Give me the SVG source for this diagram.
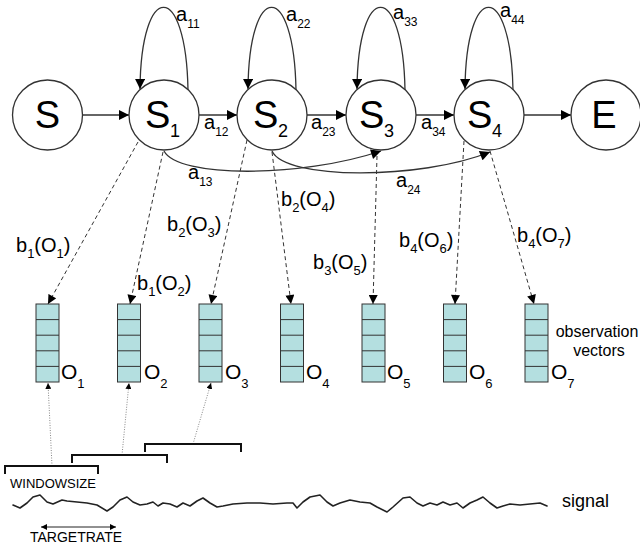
<svg xmlns="http://www.w3.org/2000/svg" width="640" height="550" viewBox="0 0 640 550">
<style>
.st{fill:#fff;stroke:#333;stroke-width:1.3}
.big{font-family:"Liberation Sans",Arial,sans-serif;font-size:38px;fill:#000}
.bsub{font-size:18px}
.lab{font-family:"Liberation Sans",Arial,sans-serif;font-size:20px;fill:#000}
.sub{font-size:12px}
.bl{font-family:"Liberation Sans",Arial,sans-serif;font-size:20px;fill:#000}
.bs{font-size:13px}
.ol{font-family:"Liberation Sans",Arial,sans-serif;font-size:21px;fill:#000}
.txt{font-family:"Liberation Sans",Arial,sans-serif;fill:#000}
.arr{fill:none;stroke:#333;stroke-width:1.3;marker-end:url(#ah)}
.dash{fill:none;stroke:#333;stroke-width:1;stroke-dasharray:4 3;marker-end:url(#ah2)}
.dot{fill:none;stroke:#888;stroke-width:1;stroke-dasharray:1 1.5;marker-end:url(#ah3)}
.box{fill:#b4dfe0;stroke:#333;stroke-width:1}
.cell{stroke:#333;stroke-width:1}
.brk{fill:none;stroke:#111;stroke-width:2}
</style>
<defs>
<marker id="ah" viewBox="0 0 10 10" refX="10" refY="5" markerWidth="11" markerHeight="10" markerUnits="userSpaceOnUse" orient="auto"><path d="M0,0 L10,5 L0,10 z" fill="#000"/></marker>
<marker id="ah2" viewBox="0 0 10 10" refX="10" refY="5" markerWidth="10" markerHeight="9" markerUnits="userSpaceOnUse" orient="auto"><path d="M0,0 L10,5 L0,10 z" fill="#000"/></marker>
<marker id="ah3" viewBox="0 0 10 10" refX="10" refY="5" markerWidth="6" markerHeight="6" markerUnits="userSpaceOnUse" orient="auto"><path d="M0,0 L10,5 L0,10 z" fill="#000"/></marker>
<marker id="sa" viewBox="0 0 10 10" refX="10" refY="5" markerWidth="7" markerHeight="6" markerUnits="userSpaceOnUse" orient="auto-start-reverse"><path d="M0,0 L10,5 L0,10 z" fill="#000"/></marker>
</defs>

<g id="connectors">
<path class="arr" d="M82,115 H129"/>
<path class="arr" d="M199,115 H237"/>
<path class="arr" d="M307,115 H346"/>
<path class="arr" d="M416,115 H454"/>
<path class="arr" d="M524,115 H571"/>
<path class="arr" d="M188,90 C186,-20 141,-20 140,89"/>
<path class="arr" d="M296,90 C294,-20 249,-20 248,89"/>
<path class="arr" d="M405,90 C403,-20 358,-20 357,89"/>
<path class="arr" d="M513,90 C511,-20 466,-20 465,89"/>
<path class="arr" d="M164,151 C178,178 300,178 381,151"/>
<path class="arr" d="M272,151 C285,180 420,180 490,152"/>
<path class="dash" d="M138,142 L48,304"/>
<path class="dash" d="M163,152 L130,304"/>
<path class="dash" d="M247,140 L211,304"/>
<path class="dash" d="M272,152 L291,304"/>
<path class="dash" d="M377,156 L373,304"/>
<path class="dash" d="M464,141 L455,304"/>
<path class="dash" d="M490,151 L534,304"/>
<path class="dot" d="M52,466 L48,383"/>
<path class="dot" d="M122,455 L129,383"/>
<path class="dot" d="M193,444 L211,383"/>
</g>

<g id="node-S"><circle class="st" cx="47.5" cy="115" r="35"/><text class="big" x="47.5" y="128" text-anchor="middle">S</text></g>
<g id="node-S1"><circle class="st" cx="164" cy="115" r="35"/><text class="big" x="145" y="128">S<tspan class="bsub" x="170" y="137">1</tspan></text></g>
<g id="node-S2"><circle class="st" cx="272" cy="115" r="35"/><text class="big" x="253" y="128">S<tspan class="bsub" x="278" y="137">2</tspan></text></g>
<g id="node-S3"><circle class="st" cx="381" cy="115" r="35"/><text class="big" x="359" y="128">S<tspan class="bsub" x="384" y="137">3</tspan></text></g>
<g id="node-S4"><circle class="st" cx="489" cy="115" r="35"/><text class="big" x="467" y="128">S<tspan class="bsub" x="492" y="137">4</tspan></text></g>
<g id="node-E"><circle class="st" cx="606" cy="115" r="35"/><text class="big" x="604" y="128" text-anchor="middle">E</text></g>

<g id="labels-a">
<text class="lab" x="176" y="21">a<tspan class="sub" dy="7">11</tspan></text>
<text class="lab" x="286" y="21">a<tspan class="sub" dy="7">22</tspan></text>
<text class="lab" x="393" y="19">a<tspan class="sub" dy="7">33</tspan></text>
<text class="lab" x="500" y="17">a<tspan class="sub" dy="7">44</tspan></text>
<text class="lab" x="204" y="129">a<tspan class="sub" dy="7">12</tspan></text>
<text class="lab" x="311" y="129">a<tspan class="sub" dy="7">23</tspan></text>
<text class="lab" x="421" y="129">a<tspan class="sub" dy="7">34</tspan></text>
<text class="lab" x="188" y="179">a<tspan class="sub" dy="7">13</tspan></text>
<text class="lab" x="396" y="187">a<tspan class="sub" dy="7">24</tspan></text>
</g>

<g id="labels-b">
<text class="bl" x="16" y="252">b<tspan class="bs" dy="6">1</tspan><tspan dy="-6">(O</tspan><tspan class="bs" dy="6">1</tspan><tspan dy="-6">)</tspan></text>
<text class="bl" x="137" y="290">b<tspan class="bs" dy="6">1</tspan><tspan dy="-6">(O</tspan><tspan class="bs" dy="6">2</tspan><tspan dy="-6">)</tspan></text>
<text class="bl" x="167" y="231">b<tspan class="bs" dy="6">2</tspan><tspan dy="-6">(O</tspan><tspan class="bs" dy="6">3</tspan><tspan dy="-6">)</tspan></text>
<text class="bl" x="281" y="206">b<tspan class="bs" dy="6">2</tspan><tspan dy="-6">(O</tspan><tspan class="bs" dy="6">4</tspan><tspan dy="-6">)</tspan></text>
<text class="bl" x="313" y="269">b<tspan class="bs" dy="6">3</tspan><tspan dy="-6">(O</tspan><tspan class="bs" dy="6">5</tspan><tspan dy="-6">)</tspan></text>
<text class="bl" x="399" y="247">b<tspan class="bs" dy="6">4</tspan><tspan dy="-6">(O</tspan><tspan class="bs" dy="6">6</tspan><tspan dy="-6">)</tspan></text>
<text class="bl" x="517" y="242">b<tspan class="bs" dy="6">4</tspan><tspan dy="-6">(O</tspan><tspan class="bs" dy="6">7</tspan><tspan dy="-6">)</tspan></text>
</g>

<g id="node-O1"><rect class="box" x="36" y="304" width="23" height="78"/><path class="cell" d="M36,319.6H59M36,335.2H59M36,350.8H59M36,366.4H59"/><text class="ol" x="61" y="379">O<tspan class="bs" dy="9">1</tspan></text></g>
<g id="node-O2"><rect class="box" x="117.5" y="304" width="23" height="78"/><path class="cell" d="M117.5,319.6H140.5M117.5,335.2H140.5M117.5,350.8H140.5M117.5,366.4H140.5"/><text class="ol" x="144" y="379">O<tspan class="bs" dy="9">2</tspan></text></g>
<g id="node-O3"><rect class="box" x="199" y="304" width="23" height="78"/><path class="cell" d="M199,319.6H222M199,335.2H222M199,350.8H222M199,366.4H222"/><text class="ol" x="225" y="379">O<tspan class="bs" dy="9">3</tspan></text></g>
<g id="node-O4"><rect class="box" x="280.5" y="304" width="23" height="78"/><path class="cell" d="M280.5,319.6H303.5M280.5,335.2H303.5M280.5,350.8H303.5M280.5,366.4H303.5"/><text class="ol" x="306" y="379">O<tspan class="bs" dy="9">4</tspan></text></g>
<g id="node-O5"><rect class="box" x="362" y="304" width="23" height="78"/><path class="cell" d="M362,319.6H385M362,335.2H385M362,350.8H385M362,366.4H385"/><text class="ol" x="387" y="379">O<tspan class="bs" dy="9">5</tspan></text></g>
<g id="node-O6"><rect class="box" x="443.5" y="304" width="23" height="78"/><path class="cell" d="M443.5,319.6H466.5M443.5,335.2H466.5M443.5,350.8H466.5M443.5,366.4H466.5"/><text class="ol" x="469" y="379">O<tspan class="bs" dy="9">6</tspan></text></g>
<g id="node-O7"><rect class="box" x="525" y="304" width="23" height="78"/><path class="cell" d="M525,319.6H548M525,335.2H548M525,350.8H548M525,366.4H548"/><text class="ol" x="551" y="379">O<tspan class="bs" dy="9">7</tspan></text></g>

<text class="txt" x="597" y="337" font-size="16" text-anchor="middle">observation</text>
<text class="txt" x="599" y="356" font-size="16" text-anchor="middle">vectors</text>

<g id="brackets">
<path class="brk" d="M5,474 V466 H98 V474"/>
<path class="brk" d="M72,463 V455 H167 V463"/>
<path class="brk" d="M145,452 V444 H241 V452"/>
</g>

<text class="txt" x="10" y="488" font-size="13">WINDOWSIZE</text>
<polyline fill="none" stroke="#222" stroke-width="1.6" stroke-linejoin="round" stroke-linecap="round" points="13,505 20,508 27,503 33,497 40,495 47,502 53,504 62,500 67,501 77,502 87,503 97,505 107,511 113,507 120,500 127,497 133,502 140,505 147,504 153,502 158,506 163,503 170,504 177,507 183,503 190,506 197,501 203,498 210,503 217,507 223,506 233,504 247,503 260,503 273,504 287,503 293,503 297,508 303,502 310,497 320,495 327,502 333,506 340,503 350,500 360,502 370,503 377,507 387,512 393,507 403,498 410,497 417,503 423,506 430,503 437,505 443,502 450,505 457,503 463,508 470,503 477,500 483,497 490,503 497,508 503,506 510,504 520,505 530,504 540,503 547,506"/>
<text class="txt" x="562" y="507" font-size="18">signal</text>
<path d="M41,527 H116" stroke="#222" stroke-width="1" fill="none" marker-start="url(#sa)" marker-end="url(#sa)"/>
<text class="txt" x="30" y="542" font-size="14">TARGETRATE</text>
</svg>
